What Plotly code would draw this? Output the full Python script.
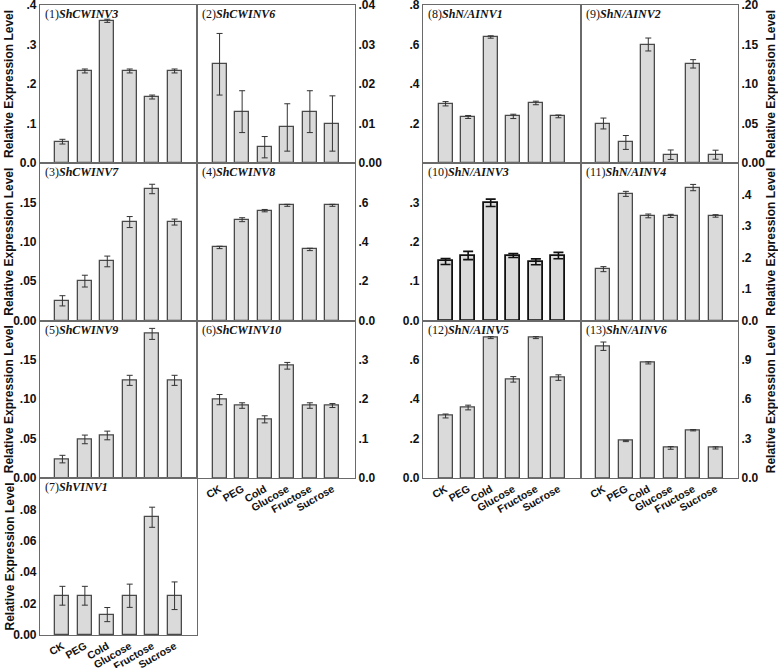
import plotly.graph_objects as go

W, H = 778, 668

# ---------------- data ----------------
categories = ["CK", "PEG", "Cold", "Glucose", "Fructose", "Sucrose"]

ShCWINV3 = [0.054, 0.233, 0.360, 0.233, 0.167, 0.233]
ShCWINV3_err = [0.006, 0.005, 0.004, 0.005, 0.005, 0.005]
ShCWINV6 = [0.025, 0.013, 0.004, 0.009, 0.013, 0.010]
ShCWINV6_err = [0.0078, 0.0053, 0.0027, 0.006, 0.0053, 0.007]
ShCWINV7 = [0.025, 0.050, 0.075, 0.125, 0.167, 0.125]
ShCWINV7_err = [0.0065, 0.0075, 0.0068, 0.007, 0.006, 0.0038]
ShCWINV8 = [0.371, 0.512, 0.558, 0.585, 0.361, 0.585]
ShCWINV8_err = [0.006, 0.010, 0.006, 0.005, 0.006, 0.005]
ShCWINV9 = [0.024, 0.049, 0.054, 0.124, 0.183, 0.124]
ShCWINV9_err = [0.0048, 0.0055, 0.0055, 0.0064, 0.007, 0.0064]
ShCWINV10 = [0.199, 0.184, 0.149, 0.285, 0.184, 0.184]
ShCWINV10_err = [0.013, 0.007, 0.009, 0.0085, 0.007, 0.005]
ShVINV1 = [0.025, 0.025, 0.013, 0.025, 0.075, 0.025]
ShVINV1_err = [0.006, 0.006, 0.0045, 0.0074, 0.0064, 0.0088]

ShNAINV1 = [0.300, 0.233, 0.638, 0.236, 0.304, 0.236]
ShNAINV1_err = [0.011, 0.0076, 0.006, 0.011, 0.009, 0.007]
ShNAINV2 = [0.050, 0.026, 0.150, 0.0105, 0.1255, 0.0105]
ShNAINV2_err = [0.0069, 0.0088, 0.0082, 0.006, 0.0053, 0.0057]
ShNAINV3 = [0.150, 0.165, 0.299, 0.165, 0.149, 0.165]
ShNAINV3_err = [0.0076, 0.0105, 0.0093, 0.005, 0.0076, 0.008]
ShNAINV4 = [0.163, 0.402, 0.332, 0.332, 0.422, 0.332]
ShNAINV4_err = [0.008, 0.008, 0.006, 0.005, 0.010, 0.004]
ShNAINV5 = [0.315, 0.358, 0.713, 0.501, 0.713, 0.510]
ShNAINV5_err = [0.010, 0.012, 0.005, 0.014, 0.005, 0.014]
ShNAINV6 = [1.004, 0.282, 0.877, 0.229, 0.364, 0.229]
ShNAINV6_err = [0.032, 0.005, 0.008, 0.010, 0.005, 0.008]

ticks_p1 = [0.0, 0.1, 0.2, 0.3, 0.4];  tick_labels_p1 = ["0.0", ".1", ".2", ".3", ".4"]
ticks_p2 = [0.0, 0.01, 0.02, 0.03, 0.04];  tick_labels_p2 = ["0.00", ".01", ".02", ".03", ".04"]
ticks_p3 = [0.0, 0.05, 0.10, 0.15];  tick_labels_p3 = ["0.00", ".05", ".10", ".15"]
ticks_p4 = [0.0, 0.2, 0.4, 0.6];  tick_labels_p4 = ["0.0", ".2", ".4", ".6"]
ticks_p5 = [0.0, 0.05, 0.10, 0.15];  tick_labels_p5 = ["0.00", ".05", ".10", ".15"]
ticks_p6 = [0.0, 0.1, 0.2, 0.3];  tick_labels_p6 = ["0.0", ".1", ".2", ".3"]
ticks_p7 = [0.0, 0.02, 0.04, 0.06, 0.08];  tick_labels_p7 = ["0.00", ".02", ".04", ".06", ".08"]
ticks_p8 = [0.2, 0.4, 0.6, 0.8];  tick_labels_p8 = [".2", ".4", ".6", ".8"]
ticks_p9 = [0.0, 0.05, 0.10, 0.15, 0.20];  tick_labels_p9 = ["0.00", ".05", ".10", ".15", ".20"]
ticks_p10 = [0.0, 0.1, 0.2, 0.3];  tick_labels_p10 = ["0.0", ".1", ".2", ".3"]
ticks_p11 = [0.0, 0.1, 0.2, 0.3, 0.4];  tick_labels_p11 = ["0.0", ".1", ".2", ".3", ".4"]
ticks_p12 = [0.0, 0.2, 0.4, 0.6];  tick_labels_p12 = ["0.0", ".2", ".4", ".6"]
ticks_p13 = [0.0, 0.3, 0.6, 0.9];  tick_labels_p13 = ["0.0", ".3", ".6", ".9"]

y_max = [0.4, 0.04, 0.2, 0.8, 0.2, 0.4, 0.1, 0.8, 0.2, 0.4, 0.5, 0.8, 1.2]
ytitle = "Relative Expression Level"

# ---------------- layout ----------------
cols_px = [(40, 197), (197, 355), (423, 581), (581, 738)]
rows_px = [(5, 163), (163, 320.5), (320.5, 478), (478, 635)]

panels = [
    ("(1)", "ShCWINV3", ShCWINV3, ShCWINV3_err, ticks_p1, tick_labels_p1, 0, 0, False),
    ("(2)", "ShCWINV6", ShCWINV6, ShCWINV6_err, ticks_p2, tick_labels_p2, 1, 0, False),
    ("(3)", "ShCWINV7", ShCWINV7, ShCWINV7_err, ticks_p3, tick_labels_p3, 0, 1, False),
    ("(4)", "ShCWINV8", ShCWINV8, ShCWINV8_err, ticks_p4, tick_labels_p4, 1, 1, False),
    ("(5)", "ShCWINV9", ShCWINV9, ShCWINV9_err, ticks_p5, tick_labels_p5, 0, 2, False),
    ("(6)", "ShCWINV10", ShCWINV10, ShCWINV10_err, ticks_p6, tick_labels_p6, 1, 2, True),
    ("(7)", "ShVINV1", ShVINV1, ShVINV1_err, ticks_p7, tick_labels_p7, 0, 3, True),
    ("(8)", "ShN/AINV1", ShNAINV1, ShNAINV1_err, ticks_p8, tick_labels_p8, 2, 0, False),
    ("(9)", "ShN/AINV2", ShNAINV2, ShNAINV2_err, ticks_p9, tick_labels_p9, 3, 0, False),
    ("(10)", "ShN/AINV3", ShNAINV3, ShNAINV3_err, ticks_p10, tick_labels_p10, 2, 1, False),
    ("(11)", "ShN/AINV4", ShNAINV4, ShNAINV4_err, ticks_p11, tick_labels_p11, 3, 1, False),
    ("(12)", "ShN/AINV5", ShNAINV5, ShNAINV5_err, ticks_p12, tick_labels_p12, 2, 2, True),
    ("(13)", "ShN/AINV6", ShNAINV6, ShNAINV6_err, ticks_p13, tick_labels_p13, 3, 2, True),
]

fig = go.Figure()
layout = {}
annotations = []
frame = "#6a6a6a"
tickfont = dict(family="Liberation Sans, Arial", size=12, color="#111", weight="bold")
xtickfont = dict(family="Liberation Sans, Arial", size=10.5, color="#111", weight="bold")

for i, (lab, name, vals, errs, tv, tt, col, row, showx) in enumerate(panels):
    n = i + 1
    sfx = "" if n == 1 else str(n)
    x0, x1 = cols_px[col]
    y0, y1 = rows_px[row]
    bold_frame = (name == "ShN/AINV3")
    fig.add_trace(go.Bar(
        x=categories, y=vals, width=0.62,
        marker=dict(color="#dadada",
                    line=dict(color="#111" if bold_frame else "#4a4a4a",
                              width=1.8 if bold_frame else 1.3)),
        error_y=dict(type="data", array=errs, visible=True,
                     color="#111" if bold_frame else "#333",
                     thickness=1.6 if bold_frame else 1,
                     width=5 if bold_frame else 3),
        xaxis="x" + sfx, yaxis="y" + sfx, showlegend=False, hoverinfo="x+y",
    ))
    layout["xaxis" + sfx] = dict(
        domain=[x0 / W, x1 / W], anchor="y" + sfx, range=[-1, 6],
        showline=True, mirror=True, linecolor=frame, linewidth=1.2,
        showgrid=False, zeroline=False, ticks="", automargin=False,
        showticklabels=showx, tickangle=-30, tickfont=xtickfont,
        ticklabeloverflow="allow", ticklabelstandoff=0,
        type="category",
    )
    layout["yaxis" + sfx] = dict(
        domain=[1 - y1 / H, 1 - y0 / H], anchor="x" + sfx, range=[0, y_max[i]],
        showline=True, mirror=True, linecolor=frame, linewidth=1.2,
        showgrid=False, zeroline=False, ticks="", automargin=False,
        tickvals=tv, ticktext=tt, tickfont=tickfont,
        ticklabeloverflow="allow",
        side="right" if col in (1, 3) else "left",
    )
    annotations.append(dict(
        x=(x0 + 3) / W, y=1 - (y0 + 9) / H, xref="paper", yref="paper",
        xanchor="left", yanchor="middle", showarrow=False,
        text=f"{lab}<b><i>{name}</i></b>",
        font=dict(family="Liberation Serif, Times New Roman", size=12, color="#111"),
    ))
    if col in (0, 3):
        xt = 9 if col == 0 else 771
        annotations.append(dict(
            x=xt / W, y=1 - ((y0 + y1) / 2) / H, xref="paper", yref="paper",
            xanchor="center", yanchor="middle", showarrow=False, textangle=-90,
            text=f"<b>{ytitle}</b>",
            font=dict(family="Liberation Sans, Arial", size=12, color="#111"),
        ))

fig.update_layout(
    width=W, height=H, margin=dict(l=0, r=0, t=0, b=0, autoexpand=False),
    paper_bgcolor="white", plot_bgcolor="white",
    annotations=annotations, bargap=0, **layout,
)
fig.write_html(
    "out.html",
    config={"displayModeBar": False},
    post_script="document.body.style.margin='0';document.body.style.overflow='hidden';",
)
